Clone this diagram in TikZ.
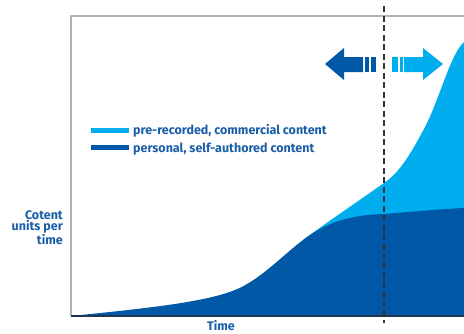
\documentclass[tikz,border=0pt]{standalone}
\usepackage{fontspec}
\setmainfont{Fira Sans}
\definecolor{lightblue}{HTML}{00AEEF}
\definecolor{darkblue}{HTML}{0058A6}
\definecolor{textblue}{HTML}{1A5EA8}
\definecolor{framegray}{HTML}{B2B2B2}
\definecolor{axisdark}{HTML}{22344F}

\begin{document}
\begin{tikzpicture}[x=1pt,y=-1pt,
  axislabel/.style={text=textblue,inner sep=0pt,font=\bfseries\fontsize{12.5}{11}\selectfont},
  legendtext/.style={text=textblue,anchor=base west,inner sep=0pt,font=\bfseries\fontsize{12.5}{14}\selectfont}]
\useasboundingbox (0,0) rectangle (464,333);
% areas
\fill[lightblue] (303,240) .. controls (323,225) and (360,200) .. (384,183)
  .. controls (400,172) and (410,155) .. (425,127)
  .. controls (440,98) and (450,55) .. (464,42) -- (464,316) -- (303,316) -- cycle;
\fill[darkblue] (71,316) .. controls (150,308) and (205,302) .. (235,290)
  .. controls (260,280) and (283,255) .. (303,240)
  .. controls (323,225) and (345,215) .. (384,214)
  .. controls (410,212) and (440,209) .. (464,208) -- (464,316) -- cycle;
% frame
\draw[framegray,line width=1.5pt] (71,316) -- (71,16) -- (464,16);
\draw[axisdark,line width=1.2pt] (71,316) -- (464,316);
\draw[black!80,line width=1.2pt,dash pattern=on 6pt off 3.5pt] (384,6) -- (384,323);
% arrows
\fill[darkblue] (325,64) -- (344,48) -- (344,57) -- (363,57) -- (363,72) -- (344,72) -- (344,80) -- cycle;
\fill[darkblue] (365,57) rectangle (368.5,72);
\fill[darkblue] (370.5,57) rectangle (376,72);
\fill[lightblue] (443,64) -- (423,48) -- (423,57) -- (404,57) -- (404,72) -- (423,72) -- (423,80) -- cycle;
\fill[lightblue] (392,57) rectangle (397.5,72);
\fill[lightblue] (399.5,57) rectangle (403,72);
% legend
\fill[lightblue] (91,128) rectangle (129,133);
\fill[darkblue] (91,145) rectangle (129,150);
\node[legendtext] (commercial) at (133,134) {pre-recorded, commercial content};
\node[legendtext] (personal) at (133,152) {personal, self-authored content};
% axis labels
\node[axislabel,anchor=east,align=right] (yaxis) at (63,227.5) {Cotent\\units per\\time};
\node[axislabel,anchor=base] (xaxis) at (221,330.5) {Time};
\end{tikzpicture}
\end{document}
